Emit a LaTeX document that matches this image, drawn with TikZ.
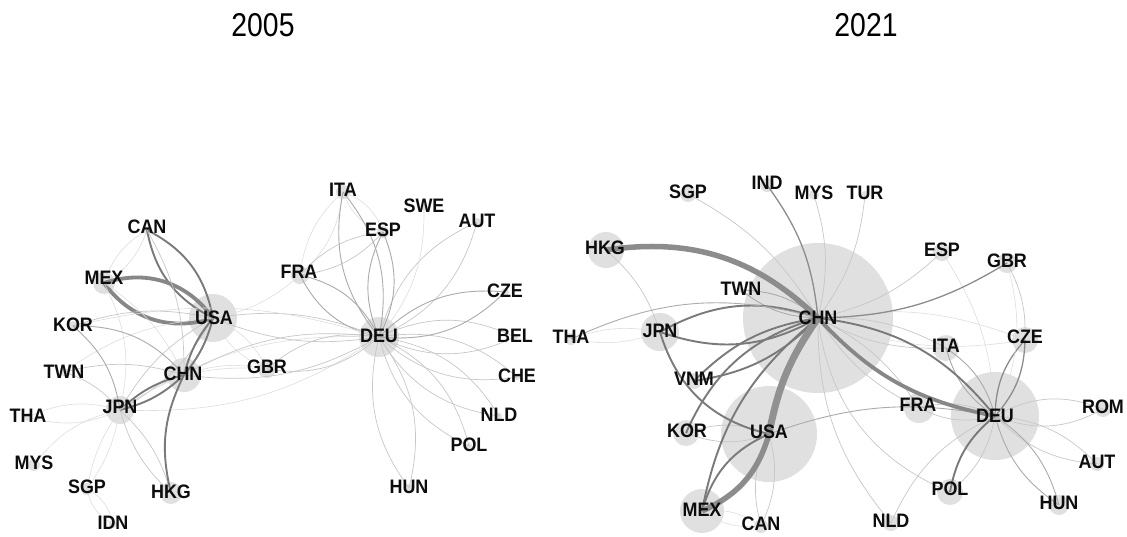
\documentclass[tikz,border=0pt]{standalone}
\usepackage{fontspec}
\setmainfont{Liberation Sans}
\begin{document}
\begin{tikzpicture}[x=1pt,y=-1pt,
  dot/.style={circle,fill=black!12,inner sep=0pt,draw=none},
  lbl/.style={font=\fontsize{19.5}{19.5}\selectfont\bfseries,text=black!95,xscale=0.92,inner sep=0pt},
  ttl/.style={font=\fontsize{33}{33}\selectfont,text=black,xscale=0.86,inner sep=0pt},
  edgeA/.style={draw=black!13,line width=0.6pt},
  edgeB/.style={draw=black!22,line width=0.7pt},
  edgeC/.style={draw=black!33,line width=0.9pt},
  edgeD/.style={draw=black!45,line width=1.3pt},
  edgeE/.style={draw=black!52,line width=1.9pt},
  edgeF/.style={draw=black!47,line width=3.8pt},
  edgeG/.style={draw=black!45,line width=5.5pt},
  edgeH/.style={draw=black!43,line width=7pt}]
\fill[white] (0,0) rectangle (1127,536);
\useasboundingbox (0,0) rectangle (1127,536);

% titles
\node[ttl] (t2005) at (263,25) {2005};
\node[ttl] (t2021) at (866,25) {2021};

% ---------- 2005 node circles ----------
\foreach \n/\x/\y/\r in {CAN/147/230/4, MEX/104/283/11, USA/213/318/24, KOR/73/326/5,
  TWN/64/372/4, CHN/184/375/17, JPN/120/410/14, THA/28/417/4, MYS/34/465/6,
  SGP/87/489/6, IDN/113/524/4, HKG/171/493/11, GBR/267/369/9, FRA/300/275/9,
  ITA/343/192/7, ESP/383/232/6, SWE/424/207/3, AUT/477/222/4, CZE/505/292/4,
  DEU/379/337/20, BEL/515/337/3, CHE/517/377/3, NLD/499/416/3, POL/469/446/3, HUN/409/488/4}
  \node[dot,minimum size=\r*2pt] (a\n) at (\x,\y) {};

% ---------- 2021 node circles ----------
\foreach \n/\x/\y/\r in {SGP/688/194/8, IND/767/185/7, MYS/814/195/5, TUR/865/195/4,
  HKG/606/250/18, TWN/741/290/3, CHN/818/318/75, JPN/660/332/19, THA/571/339/6,
  VNM/694/381/8, KOR/686/433/13, USA/769/434/48, MEX/702/511/22, CAN/761/526/7,
  NLD/891/523/8, POL/950/492/13, HUN/1059/505/10, AUT/1097/464/7, ROM/1103/409/8,
  DEU/995/416/44, FRA/919/408/15, ITA/946/348/13, CZE/1025/340/13, ESP/942/252/9,
  GBR/1007/263/10}
  \node[dot,minimum size=\r*2pt] (b\n) at (\x,\y) {};

% ---------- 2005 edges: pairs (both directions) ----------
\foreach \a/\b/\s/\k in {aCAN/aMEX/edgeA/20, aSGP/aIDN/edgeA/25, aSGP/aJPN/edgeA/12,
  aTHA/aJPN/edgeA/20, aJPN/aDEU/edgeA/18, aGBR/aUSA/edgeA/20, aITA/aFRA/edgeA/20,
  aITA/aESP/edgeA/25, aJPN/aHKG/edgeB/15, aUSA/aJPN/edgeB/15, aUSA/aDEU/edgeB/15,
  aCHN/aDEU/edgeB/18, aGBR/aDEU/edgeB/25, aAUT/aDEU/edgeB/25, aBEL/aDEU/edgeB/25,
  aCHE/aDEU/edgeB/25, aNLD/aDEU/edgeB/25, aPOL/aDEU/edgeB/25, aHUN/aDEU/edgeB/25,
  aESP/aFRA/edgeB/20, aFRA/aDEU/edgeC/25, aITA/aDEU/edgeC/25, aESP/aDEU/edgeC/25,
  aCZE/aDEU/edgeC/25, aCAN/aUSA/edgeE/26, aUSA/aCHN/edgeE/12, aCHN/aJPN/edgeE/14,
  aMEX/aUSA/edgeF/36}
  {\draw[style=\s] (\a.center) to[bend left=\k] (\b.center);
   \draw[style=\s] (\b.center) to[bend left=\k] (\a.center);}

% ---------- 2005 edges: single arcs ----------
\foreach \a/\b/\s/\k in {aMYS/aJPN/edgeA/20, aMEX/aJPN/edgeA/20, aMEX/aCHN/edgeA/15,
  aTWN/aUSA/edgeA/15, aSWE/aDEU/edgeA/20, aFRA/aUSA/edgeA/15, aCHN/aGBR/edgeA/15,
  aJPN/aGBR/edgeA/20, aKOR/aDEU/edgeA/15, aTWN/aCHN/edgeB/15, aTWN/aJPN/edgeB/15,
  aCAN/aCHN/edgeB/15, aKOR/aUSA/edgeB/15, aKOR/aCHN/edgeC/25, aKOR/aJPN/edgeC/20,
  aHKG/aCHN/edgeE/20}
  \draw[style=\s] (\a.center) to[bend left=\k] (\b.center);

% ---------- 2021 edges: pairs ----------
\foreach \a/\b/\s/\k in {bMEX/bCAN/edgeA/20, bTHA/bJPN/edgeA/15, bCHN/bCZE/edgeA/15,
  bKOR/bUSA/edgeB/20, bUSA/bCAN/edgeB/20, bCHN/bFRA/edgeB/15, bCHN/bITA/edgeB/15,
  bDEU/bFRA/edgeB/20, bDEU/bROM/edgeB/25, bDEU/bAUT/edgeB/20,
  bTWN/bCHN/edgeC/18, bDEU/bITA/edgeC/20, bDEU/bHUN/edgeC/20, bDEU/bCZE/edgeD/20,
  bVNM/bCHN/edgeE/18, bJPN/bCHN/edgeE/24}
  {\draw[style=\s] (\a.center) to[bend left=\k] (\b.center);
   \draw[style=\s] (\b.center) to[bend left=\k] (\a.center);}

% ---------- 2021 edges: single arcs ----------
\foreach \a/\b/\s/\k in {bESP/bDEU/edgeA/15, bHKG/bJPN/edgeB/15, bSGP/bCHN/edgeB/15,
  bMYS/bCHN/edgeB/15, bTUR/bCHN/edgeB/15, bESP/bCHN/edgeB/15, bPOL/bCHN/edgeB/30,
  bNLD/bCHN/edgeB/20, bDEU/bPOL/edgeB/20, bNLD/bDEU/edgeB/20, bGBR/bCZE/edgeB/15,
  bGBR/bDEU/edgeA/20,
  bTHA/bCHN/edgeC/20, bUSA/bDEU/edgeC/15, bIND/bCHN/edgeD/15, bGBR/bCHN/edgeD/15,
  bMEX/bCHN/edgeE/20, bMEX/bUSA/edgeE/25, bKOR/bCHN/edgeE/25, bUSA/bJPN/edgeE/30,
  bCHN/bDEU/edgeE/22, bPOL/bDEU/edgeE/20, bDEU/bCHN/edgeF/18, bHKG/bCHN/edgeG/26,
  bUSA/bMEX/edgeG/25, bUSA/bCHN/edgeH/12}
  \draw[style=\s] (\a.center) to[bend left=\k] (\b.center);

% ---------- labels ----------
\foreach \n/\x/\y in {CAN/147/227, MEX/104/278, USA/214/318, KOR/73/325, TWN/64/372,
  CHN/183/374, JPN/120/407, THA/28/416, MYS/34/463, SGP/87/487, IDN/113/523,
  HKG/171/492, GBR/267/367, FRA/299/272, ITA/343/190, ESP/383/230, SWE/424/206,
  AUT/477/221, CZE/505/291, DEU/379/336, BEL/515/336, CHE/517/376, NLD/499/415,
  POL/469/445, HUN/409/487}
  \node[lbl] (a\n l) at (\x,\y) {\n};
\foreach \n/\x/\y in {SGP/688/192, IND/767/183, MYS/814/193, TUR/865/193, HKG/605/248,
  TWN/741/289, CHN/818/318, JPN/660/331, THA/571/337, VNM/694/379, KOR/687/431,
  USA/769/432, MEX/702/510, CAN/761/524, NLD/891/521, POL/950/489, HUN/1059/503,
  AUT/1097/462, ROM/1103/407, DEU/995/416, FRA/918/405, ITA/946/346, CZE/1025/337,
  ESP/942/250, GBR/1007/261}
  \node[lbl] (b\n l) at (\x,\y) {\n};
\end{tikzpicture}
\end{document}
